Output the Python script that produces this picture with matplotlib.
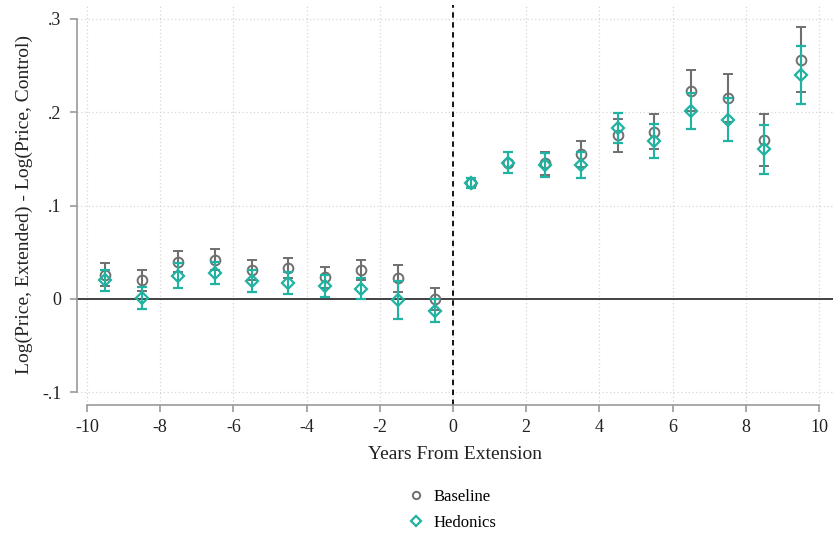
import numpy as np
import matplotlib.pyplot as plt

# event time (years from extension)
years = [-9.5, -8.5, -7.5, -6.5, -5.5, -4.5, -3.5, -2.5, -1.5, -0.5,
         0.5, 1.5, 2.5, 3.5, 4.5, 5.5, 6.5, 7.5, 8.5, 9.5]

# baseline estimates and CI half-widths
base_est = [0.026, 0.020, 0.040, 0.042, 0.031, 0.033, 0.023, 0.031, 0.022, -0.0003,
            0.124, 0.146, 0.145, 0.155, 0.175, 0.179, 0.223, 0.215, 0.170, 0.256]
base_ci = [0.012, 0.011, 0.011, 0.011, 0.011, 0.011, 0.011, 0.011, 0.014, 0.012,
           0.005, 0.011, 0.012, 0.014, 0.018, 0.019, 0.022, 0.026, 0.028, 0.035]

# hedonics estimates and CI half-widths
hed_est = [0.020, 0.001, 0.025, 0.028, 0.019, 0.017, 0.014, 0.011, -0.001, -0.0125,
           0.124, 0.146, 0.143, 0.143, 0.183, 0.169, 0.201, 0.192, 0.160, 0.240]
hed_ci = [0.011, 0.012, 0.013, 0.012, 0.012, 0.012, 0.012, 0.011, 0.020, 0.012,
          0.005, 0.011, 0.013, 0.014, 0.016, 0.018, 0.019, 0.023, 0.026, 0.031]

xticks = [-10, -8, -6, -4, -2, 0, 2, 4, 6, 8, 10]
yticks = [-0.1, 0, 0.1, 0.2, 0.3]
ytick_labels = ['-.1', '0', '.1', '.2', '.3']

plt.rcParams['font.family'] = ['Liberation Serif', 'DejaVu Serif']

gray = '#6f6f6f'
teal = '#21b3a1'

fig = plt.figure(figsize=(8.33, 5.35), dpi=100)
W, H = 833, 535
ax = fig.add_axes([77 / W, (H - 405) / H, (833 - 77) / W, 400 / H])

ax.set_xlim(-10.27, 10.38)
ax.set_ylim(-0.1134, 0.3145)

# grid
for xt in xticks:
    ax.axvline(xt, color='#d6d6d6', lw=0.9, ls=(0, (1, 2)), zorder=0)
for yt in [-0.1, 0.1, 0.2, 0.3]:
    ax.axhline(yt, color='#d6d6d6', lw=0.9, ls=(0, (1, 2)), zorder=0)

ax.axhline(0, color='#333333', lw=1.3, zorder=1)
ax.axvline(0, color='black', lw=1.3, ls=(0, (3, 2.5)), zorder=1)

ax.errorbar(years, base_est, yerr=base_ci, fmt='o', mfc='none', mec=gray,
            ecolor=gray, ms=7, mew=1.4, elinewidth=1.5, capsize=3.8,
            capthick=1.5, label='Baseline', zorder=3)
ax.errorbar(years, hed_est, yerr=hed_ci, fmt='D', mfc='none', mec=teal,
            ecolor=teal, ms=6.3, mew=1.6, elinewidth=1.5, capsize=3.8,
            capthick=1.5, label='Hedonics', zorder=4)

# stata-like axes
for s in ['top', 'right']:
    ax.spines[s].set_visible(False)
ax.spines['left'].set_bounds(-0.1, 0.3)
ax.spines['bottom'].set_bounds(-10, 10)
ax.spines['left'].set_color('#999999')
ax.spines['bottom'].set_color('#999999')
ax.spines['left'].set_linewidth(1.2)
ax.spines['bottom'].set_linewidth(1.2)

ax.set_xticks(xticks)
ax.set_xticklabels([str(t) for t in xticks])
ax.set_yticks(yticks)
ax.set_yticklabels(ytick_labels)
ax.tick_params(axis='both', colors='#999999', length=5, width=1.2,
               labelcolor='#222222', labelsize=13)
ax.tick_params(axis='x', pad=5)
ax.tick_params(axis='y', pad=6)

ax.set_xlabel('Years From Extension', fontsize=14, color='#222222', labelpad=7)
ax.set_ylabel('Log(Price, Extended) - Log(Price, Control)', fontsize=14,
              color='#222222', labelpad=7)

handles, labels = ax.get_legend_handles_labels()
handles = [h[0] for h in handles]
fig.legend(handles, labels, loc='center', bbox_to_anchor=(452 / W, 1 - 510 / H),
           ncol=1, frameon=False, fontsize=12, handletextpad=0.5,
           handlelength=1.0, labelspacing=0.6, markerscale=0.75)

fig.savefig('out.png', dpi=100)
